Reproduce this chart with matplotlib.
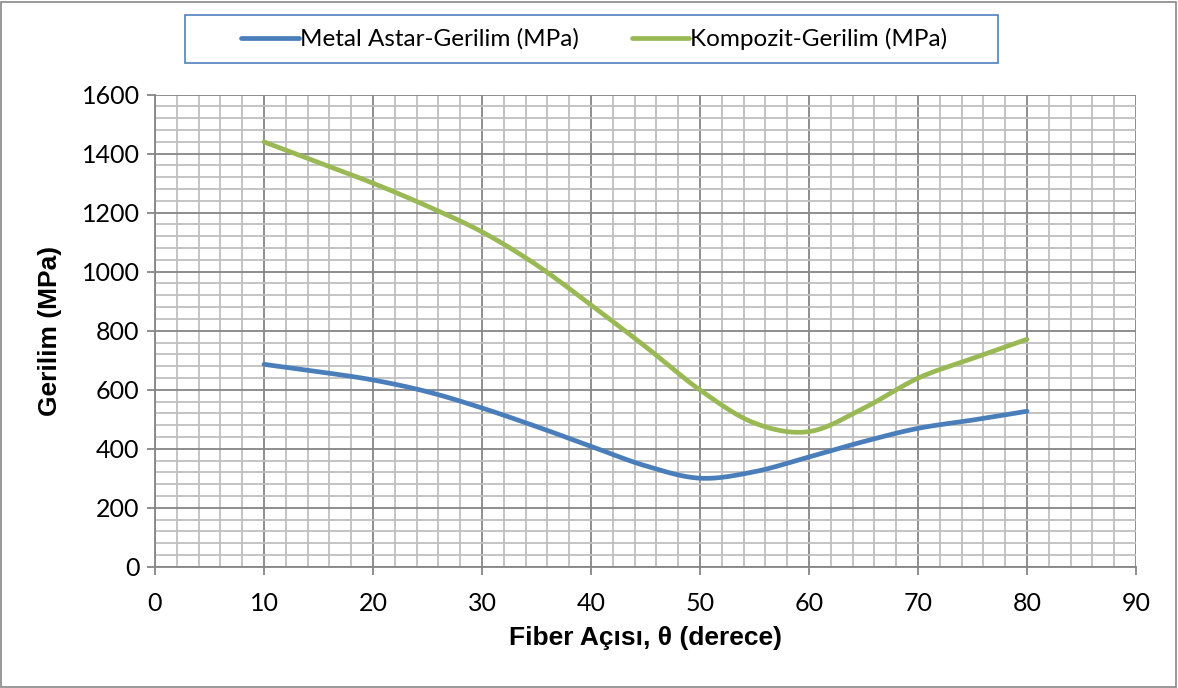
from matplotlib import pyplot as plt
from matplotlib.patches import Rectangle
from matplotlib.ticker import MultipleLocator
import numpy as np

plt.rcParams['figure.dpi'] = 100

# Fiber angle (degrees) and stresses (MPa)
angle = [10, 15, 20, 25, 30, 35, 40, 45, 50, 55, 60, 65, 70, 75, 80]
metal = [686, 661, 633, 593, 538, 475, 408, 342, 300, 322, 372, 424, 469, 497, 527]
kompozit = [1440, 1370, 1300, 1222, 1135, 1023, 887, 746, 599, 487, 458, 537, 639, 706, 771]

LABEL_METAL = 'Metal Astar-Gerilim (MPa)'
LABEL_KOMP = 'Kompozit-Gerilim (MPa)'

BLUE = '#4A7EBB'
GREEN = '#98B954'


def smooth(x, y, n=30):
    # Excel-style smoothed line: cubic Bezier segments with Catmull-Rom tangents
    x = np.asarray(x, float)
    y = np.asarray(y, float)
    px = np.concatenate([[x[0]], x, [x[-1]]])
    py = np.concatenate([[y[0]], y, [y[-1]]])
    xs, ys = [], []
    t = np.linspace(0, 1, n)
    for i in range(len(x) - 1):
        p0 = np.array([px[i + 1], py[i + 1]])
        p3 = np.array([px[i + 2], py[i + 2]])
        c1 = p0 + (np.array([px[i + 2], py[i + 2]]) - np.array([px[i], py[i]])) / 6
        c2 = p3 - (np.array([px[i + 3], py[i + 3]]) - np.array([px[i + 1], py[i + 1]])) / 6
        b = ((1 - t) ** 3)[:, None] * p0 + (3 * (1 - t) ** 2 * t)[:, None] * c1 \
            + (3 * (1 - t) * t ** 2)[:, None] * c2 + (t ** 3)[:, None] * p3
        xs.extend(b[:, 0])
        ys.extend(b[:, 1])
    return xs, ys


fig = plt.figure(figsize=(11.78, 6.88))
ax = fig.add_axes([155 / 1178, 1 - 566.7 / 688, (1136 - 155) / 1178, (566.7 - 94.7) / 688])

# outer chart border
fig.patches.append(Rectangle((1 / 1178, 1 / 688), 1 - 3 / 1178, 1 - 3 / 688,
                             transform=fig.transFigure, fill=False,
                             edgecolor='#878787', linewidth=1.2))

mx, my = smooth(angle, metal)
kx, ky = smooth(angle, kompozit)
ax.plot(mx, my, color=BLUE, linewidth=3.4, solid_capstyle='round', label=LABEL_METAL, zorder=3)
ax.plot(kx, ky, color=GREEN, linewidth=3.4, solid_capstyle='round', label=LABEL_KOMP, zorder=3)

ax.set_xlim(0, 90)
ax.set_ylim(0, 1600)
ax.xaxis.set_major_locator(MultipleLocator(10))
ax.xaxis.set_minor_locator(MultipleLocator(2))
ax.yaxis.set_major_locator(MultipleLocator(200))
ax.yaxis.set_minor_locator(MultipleLocator(40))

ax.grid(which='minor', color='#BFBFBF', linewidth=1.3)
ax.grid(which='major', color='#868686', linewidth=1.3)
ax.set_axisbelow(True)

for s in ['top', 'right']:
    ax.spines[s].set_visible(False)
for s in ['left', 'bottom']:
    ax.spines[s].set_color('#868686')
    ax.spines[s].set_linewidth(1.3)

ax.tick_params(which='major', length=6, width=1.3, color='#868686', labelsize=18)
ax.tick_params(axis='x', pad=12)
ax.tick_params(axis='y', pad=5)
ax.tick_params(which='minor', length=0)
for lab in ax.get_xticklabels() + ax.get_yticklabels():
    lab.set_fontfamily('Lato')

ax.set_xlabel('Fiber Açısı, θ (derece)', fontsize=19, fontweight='bold',
              family='Liberation Sans', labelpad=8)
ax.set_ylabel('Gerilim (MPa)', fontsize=19, fontweight='bold',
              family='Liberation Sans', labelpad=14)

# legend box at the top
fig.patches.append(Rectangle((185 / 1178, 1 - 63 / 688), (998 - 185) / 1178, 48 / 688,
                             transform=fig.transFigure, fill=False,
                             edgecolor='#4F81BD', linewidth=1.2))
fig.legend(loc='center', bbox_to_anchor=(594.5 / 1178, 1 - 39 / 688), ncol=2,
           frameon=False, prop={'family': 'Lato', 'size': 17.5},
           handlelength=2.35, handletextpad=0.05, columnspacing=2.2)

plt.savefig('out.png', dpi=100)
